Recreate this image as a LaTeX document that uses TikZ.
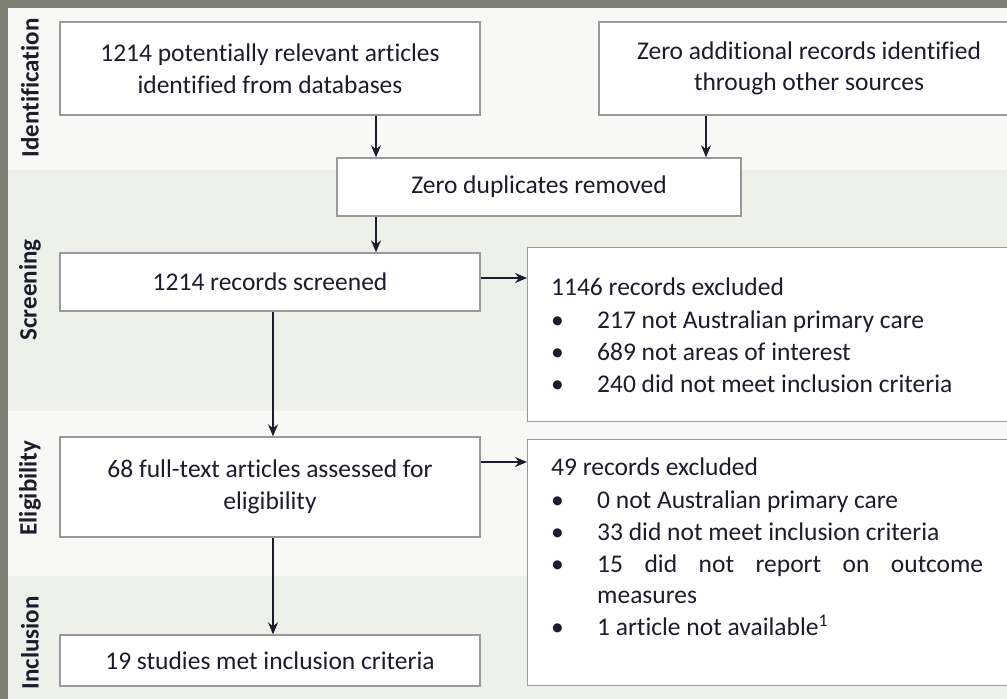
\documentclass[tikz,border=0pt]{standalone}
\usepackage{fontspec}
\setmainfont{Carlito}[Ligatures=NoCommon]
\usetikzlibrary{arrows.meta,calc}

\definecolor{frame}{HTML}{7D8072}
\definecolor{bandA}{HTML}{F8F9F6}
\definecolor{bandB}{HTML}{EEF0EA}
\definecolor{boxline}{HTML}{9A9A9A}
\definecolor{ink}{HTML}{1C1C2C}

\begin{document}
\begin{tikzpicture}[x=1pt,y=-1pt,>={Stealth[length=12pt,width=10pt]},
    box/.style={draw=boxline,line width=1.4pt,fill=white,text=ink,align=center,
      inner sep=0pt,font=\fontsize{25.5}{31.5}\selectfont},
    exbox/.style={draw=boxline,line width=1.4pt,fill=white,inner sep=0pt,anchor=north west},
    extext/.style={text=ink,align=left,anchor=north west,inner sep=0pt,
      font=\fontsize{25.5}{32.3}\selectfont},
    band/.style={rotate=90,text=ink,font=\bfseries\fontsize{25}{25}\selectfont},
    arr/.style={->,draw=ink,line width=1.2pt}]
  \useasboundingbox (0,0) rectangle (1007,699);
  \clip (0,0) rectangle (1007,699);

  % Background and phase bands
  \fill[frame] (0,0) rectangle (1007,699);
  \fill[bandB] (8,8) rectangle (1007,699);
  \fill[bandA] (8,8) rectangle (1007,170);
  \fill[bandA] (8,411) rectangle (1007,576);

  % Phase labels
  \node[band] (lid)  at (30,88)  {Identification};
  \node[band] (lscr) at (30,290) {Screening};
  \node[band] (lel)  at (30,488) {Eligibility};
  \node[band] (lin)  at (30,643) {Inclusion};

  % Flow boxes
  \node[box,minimum width=420,minimum height=93] (db) at (270,68.5)
    {1214 potentially relevant articles\\identified from databases};
  \node[box,minimum width=420,minimum height=93] (other) at (809,68.5)
    {Zero additional records identified\\through other sources};
  \node[box,minimum width=404,minimum height=58] (dup) at (539,187)
    {Zero duplicates removed};
  \node[box,minimum width=420,minimum height=58] (scr) at (270,282)
    {1214 records screened};
  \node[box,minimum width=420,minimum height=100] (elig) at (270,487)
    {68 full-text articles assessed for\\eligibility};
  \node[box,minimum width=420,minimum height=51] (incl) at (270,660.5)
    {19 studies met inclusion criteria};

  % Exclusion boxes
  \node[exbox,minimum width=490,minimum height=174] (ex1) at (527,247) {};
  \node[exbox,minimum width=490,minimum height=246] (ex2) at (527,439) {};

  \node[extext] (ex1txt) at (551,278) {1146 records excluded\\
    \makebox[46pt][l]{\textbullet}217 not Australian primary care\\
    \makebox[46pt][l]{\textbullet}689 not areas of interest\\
    \makebox[46pt][l]{\textbullet}240 did not meet inclusion criteria};
  \node[extext] (ex2txt) at (551,458) {49 records excluded\\
    \makebox[46pt][l]{\textbullet}0 not Australian primary care\\
    \makebox[46pt][l]{\textbullet}33 did not meet inclusion criteria\\
    \makebox[46pt][l]{\textbullet}\makebox[386pt][s]{15 did not report on outcome}\\[-2pt]
    \hspace*{46pt}measures\\
    \makebox[46pt][l]{\textbullet}1 article not available\textsuperscript{1}};

  % Connectors
  \draw[arr] ([xshift=106pt]db.south) -- ([xshift=106pt]db.south |- dup.north);
  \draw[arr] ([xshift=-103pt]other.south) -- ([xshift=-103pt]other.south |- dup.north);
  \draw[arr] ([xshift=106pt]scr.north |- dup.south) -- ([xshift=106pt]scr.north);
  \draw[arr] ([xshift=3pt]scr.south) -- ([xshift=3pt]elig.north);
  \draw[arr] ([xshift=3pt]elig.south) -- ([xshift=3pt]incl.north);
  \draw[arr] ([yshift=4pt]scr.east) -- ([yshift=4pt]scr.east -| ex1.west);
  \draw[arr] ([yshift=25pt]elig.east) -- ([yshift=25pt]elig.east -| ex2.west);
\end{tikzpicture}
\end{document}
